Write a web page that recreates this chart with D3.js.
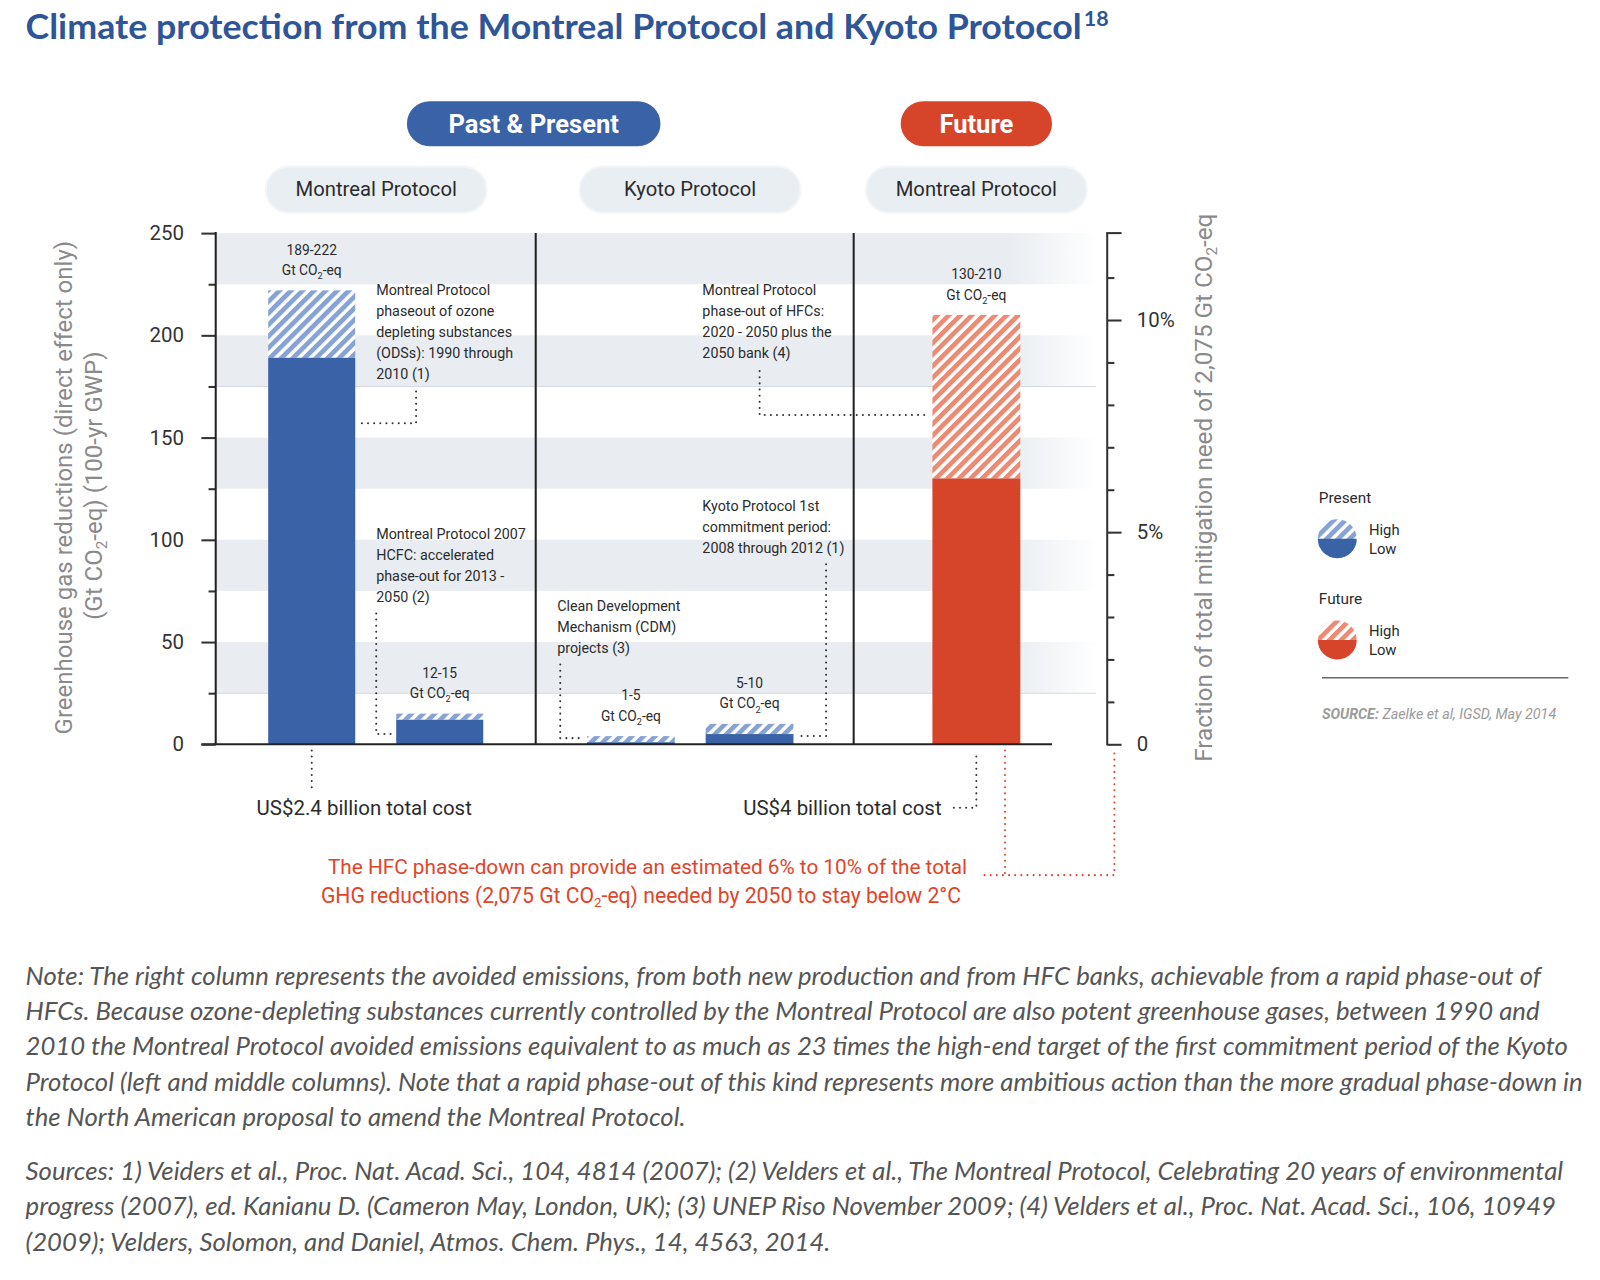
<!DOCTYPE html>
<html>
<head>
<meta charset="utf-8">
<script src="https://cdn.jsdelivr.net/npm/d3@7"></script>
<style>
  body { margin: 0; background: #fff; }
</style>
</head>
<body>
<div id="chart"></div>
<script>
// ---- data ----
const categories = ["ODS phase-out 1990-2010", "HCFC accelerated phase-out", "CDM projects", "Kyoto 1st commitment", "HFC phase-out 2020-2050"];
const barPanel = ["pastMontreal", "pastMontreal", "kyoto", "kyoto", "futureMontreal"];
const lowValues = [189, 12, 1, 5, 130];
const highValues = [222, 15, 4, 10, 210];
const rangeLabels = ["189-222", "12-15", "1-5", "5-10", "130-210"];
const panels = ["pastMontreal", "kyoto", "futureMontreal"];
const panelLabels = ["Montreal Protocol", "Kyoto Protocol", "Montreal Protocol"];
const periods = ["Past & Present", "Future"];
const yTicks = [0, 50, 100, 150, 200, 250];
const yMinorTicks = [25, 75, 125, 175, 225];
const pctTicks = [0, 0.05, 0.10];
const pctMinorTicks = [0.01, 0.02, 0.03, 0.04, 0.06, 0.07, 0.08, 0.09, 0.11];
const totalNeed = 2075;
const costLabels = ["US$2.4 billion total cost", "US$4 billion total cost"];
const annotations = [
  ["Montreal Protocol", "phaseout of ozone", "depleting substances", "(ODSs): 1990 through", "2010 (1)"],
  ["Montreal Protocol 2007", "HCFC: accelerated", "phase-out for 2013 -", "2050 (2)"],
  ["Clean Development", "Mechanism (CDM)", "projects (3)"],
  ["Montreal Protocol", "phase-out of HFCs:", "2020 - 2050 plus the", "2050 bank (4)"],
  ["Kyoto Protocol 1st", "commitment period:", "2008 through 2012 (1)"]
];
const noteLines = [
  "Note: The right column represents the avoided emissions, from both new production and from HFC banks, achievable from a rapid phase-out of",
  "HFCs. Because ozone-depleting substances currently controlled by the Montreal Protocol are also potent greenhouse gases, between 1990 and",
  "2010 the Montreal Protocol avoided emissions equivalent to as much as 23 times the high-end target of the first commitment period of the Kyoto",
  "Protocol (left and middle columns). Note that a rapid phase-out of this kind represents more ambitious action than the more gradual phase-down in",
  "the North American proposal to amend the Montreal Protocol."
];
const sourceLines = [
  "Sources: 1) Veiders et al., Proc. Nat. Acad. Sci., 104, 4814 (2007); (2) Velders et al., The Montreal Protocol, Celebrating 20 years of environmental",
  "progress (2007), ed. Kanianu D. (Cameron May, London, UK); (3) UNEP Riso November 2009; (4) Velders et al., Proc. Nat. Acad. Sci., 106, 10949",
  "(2009); Velders, Solomon, and Daniel, Atmos. Chem. Phys., 14, 4563, 2014."
];

// ---- layout ----
const W = 1600, H = 1280;
const VW = 1565, VH = 1252; // drawing units, scaled up to the page
const blue = "#3a62a6", blueHatch = "#86a3d4", red = "#d6452a", redHatch = "#ec8b74";
const band = "#e9edf1", ink = "#2b2b2b";
const chartFont = "Roboto, 'Open Sans', sans-serif";
const plotLeft = 211, axisRightX = 1083, plotTop = 228, plotBottom = 728;

const svg = d3.select("#chart").append("svg").attr("width", W).attr("height", H)
  .attr("viewBox", `0 0 ${VW} ${VH}`).attr("preserveAspectRatio", "none")
  .style("background", "#fff");
const defs = svg.append("defs");

function hatch(id, color) {
  const p = defs.append("pattern").attr("id", id).attr("patternUnits", "userSpaceOnUse")
    .attr("width", 8).attr("height", 8).attr("patternTransform", "rotate(45)");
  p.append("rect").attr("width", 8).attr("height", 8).attr("fill", "#fff");
  p.append("rect").attr("width", 4.6).attr("height", 8).attr("fill", color);
}
hatch("hatchBlue", blueHatch);
hatch("hatchRed", redHatch);

const fade = defs.append("linearGradient").attr("id", "bandFade")
  .attr("gradientUnits", "userSpaceOnUse").attr("x1", plotLeft).attr("x2", 1074).attr("y1", 0).attr("y2", 0);
fade.append("stop").attr("offset", 0.9).attr("stop-color", band);
fade.append("stop").attr("offset", 1).attr("stop-color", "#fff");

// subscript helper: "_2" -> subscript 2
function rich(sel, s, subSize, subDy) {
  s.split("_2").forEach((part, i) => {
    if (i > 0) {
      sel.append("tspan").attr("font-size", subSize).attr("dy", subDy).text("2");
      sel.append("tspan").attr("dy", -subDy).text(part);
    } else {
      sel.append("tspan").text(part);
    }
  });
}

// ---- scales ----
const y = d3.scaleLinear().domain([0, 250]).range([plotBottom, plotTop]);
const yPct = d3.scaleLinear().domain([0, 250 / totalNeed]).range([plotBottom, plotTop]);

const panelLayout = {
  pastMontreal: { range: [211, 524], inner: 0.32, outer: 0.41, align: 0.5 },
  kyoto: { range: [524, 835], inner: 0.26, outer: 0.47, align: 0.46 },
  futureMontreal: { range: [835, 1075], inner: 0.3, outer: 0.627, align: 0.5 }
};
const panelScales = {};
panels.forEach(p => {
  const L = panelLayout[p];
  panelScales[p] = d3.scaleBand()
    .domain(categories.filter((c, i) => barPanel[i] === p))
    .range(L.range).paddingInner(L.inner).paddingOuter(L.outer).align(L.align);
});
const bars = categories.map((c, i) => {
  const sc = panelScales[barPanel[i]];
  return { cat: c, low: lowValues[i], high: highValues[i], label: rangeLabels[i],
    x: sc(c), w: sc.bandwidth(), cx: sc(c) + sc.bandwidth() / 2, future: barPanel[i] === "futureMontreal" };
});

// ---- title ----
const title = svg.append("text").attr("x", 25).attr("y", 38)
  .attr("font-family", "Lato, sans-serif").attr("font-weight", 700).attr("font-size", 34)
  .attr("fill", "#2e5597");
const titleMain = title.append("tspan").text("Climate protection from the Montreal Protocol and Kyoto Protocol");
title.append("tspan").attr("font-size", 21).attr("dy", -13).attr("dx", 2).text("18");
titleMain.attr("textLength", 1033).attr("lengthAdjust", "spacingAndGlyphs");

// ---- background bands ----
const g = svg.append("g");
g.selectAll("rect.band").data([225, 175, 125, 75, 25]).enter().append("rect")
  .attr("class", "band").attr("x", plotLeft).attr("width", 1074 - plotLeft)
  .attr("y", d => y(d + 25)).attr("height", d => y(d) - y(d + 25)).attr("fill", "url(#bandFade)");
g.selectAll("line.bline").data([25, 175]).enter().append("line")
  .attr("x1", plotLeft).attr("x2", 1072).attr("y1", d => y(d)).attr("y2", d => y(d))
  .attr("stroke", "#d6dadf").attr("stroke-width", 1);

// ---- header pills ----
const pillData = [
  { text: periods[0], cx: 522, w: 248, fill: blue },
  { text: periods[1], cx: bars[4].cx, w: 148, fill: red }
];
pillData.forEach(p => {
  svg.append("rect").attr("x", p.cx - p.w / 2).attr("y", 99).attr("width", p.w).attr("height", 44)
    .attr("rx", 22).attr("fill", p.fill);
  svg.append("text").attr("x", p.cx).attr("y", 130).attr("text-anchor", "middle")
    .attr("font-family", chartFont).attr("font-weight", 700).attr("font-size", 25)
    .attr("fill", "#fff").text(p.text);
});
const subPillCx = [368, 675, 955];
panelLabels.forEach((t, i) => {
  svg.append("rect").attr("x", subPillCx[i] - 108).attr("y", 163).attr("width", 216).attr("height", 45)
    .attr("rx", 22.5).attr("fill", "#e9eef2").attr("stroke", "#f3f5f7").attr("stroke-width", 2);
  svg.append("text").attr("x", subPillCx[i]).attr("y", 192).attr("text-anchor", "middle")
    .attr("font-family", chartFont).attr("font-size", 19.8).attr("fill", ink).text(t);
});

// ---- bars ----
const barG = svg.append("g");
barG.selectAll("rect.high").data(bars).enter().append("rect").attr("class", "high")
  .attr("x", d => d.x).attr("width", d => d.w)
  .attr("y", d => y(d.high)).attr("height", d => y(d.low) - y(d.high))
  .attr("fill", d => d.future ? "url(#hatchRed)" : "url(#hatchBlue)");
barG.selectAll("rect.low").data(bars).enter().append("rect").attr("class", "low")
  .attr("x", d => d.x).attr("width", d => d.w)
  .attr("y", d => y(d.low)).attr("height", d => y(0) - y(d.low))
  .attr("fill", d => d.future ? red : blue);

// value labels
bars.forEach(d => {
  svg.append("text").attr("x", d.cx).attr("y", y(d.high) - 35).attr("text-anchor", "middle")
    .attr("font-family", chartFont).attr("font-size", 13.5).attr("fill", ink).text(d.label);
  const t2 = svg.append("text").attr("x", d.cx).attr("y", y(d.high) - 15).attr("text-anchor", "middle")
    .attr("font-family", chartFont).attr("font-size", 13.5).attr("fill", ink);
  rich(t2, "Gt CO_2-eq", 9, 4);
});

// ---- separators and axes ----
[524, 835].forEach(x => svg.append("line").attr("x1", x).attr("x2", x).attr("y1", plotTop).attr("y2", plotBottom)
  .attr("stroke", "#222").attr("stroke-width", 2));
svg.append("line").attr("x1", 197).attr("x2", 1029).attr("y1", plotBottom).attr("y2", plotBottom)
  .attr("stroke", "#222").attr("stroke-width", 2);

function styleAxis(sel) {
  sel.select(".domain").remove();
  sel.selectAll(".tick line").attr("stroke", "#333").attr("stroke-width", 2);
  sel.selectAll(".tick text").attr("font-family", chartFont).attr("font-size", 20).attr("fill", "#333");
}
svg.append("g").attr("transform", `translate(${plotLeft},0)`)
  .call(d3.axisLeft(y).tickValues(yTicks).tickSize(14).tickPadding(17)).call(styleAxis);
svg.append("g").attr("transform", `translate(${plotLeft},0)`)
  .call(d3.axisLeft(y).tickValues(yMinorTicks).tickSize(7).tickFormat("")).call(styleAxis);
svg.append("line").attr("x1", plotLeft).attr("x2", plotLeft).attr("y1", plotTop - 1).attr("y2", plotBottom)
  .attr("stroke", "#222").attr("stroke-width", 2);

svg.append("g").attr("transform", `translate(${axisRightX},0)`)
  .call(d3.axisRight(yPct).tickValues(pctTicks).tickSize(14).tickPadding(15)
    .tickFormat(d => d === 0 ? "0" : d3.format(".0%")(d))).call(styleAxis);
svg.append("g").attr("transform", `translate(${axisRightX},0)`)
  .call(d3.axisRight(yPct).tickValues(pctMinorTicks).tickSize(7).tickFormat("")).call(styleAxis);
svg.append("line").attr("x1", axisRightX).attr("x2", axisRightX).attr("y1", plotTop).attr("y2", plotBottom + 1)
  .attr("stroke", "#333").attr("stroke-width", 2);
svg.append("line").attr("x1", axisRightX - 1).attr("x2", axisRightX + 14).attr("y1", plotTop).attr("y2", plotTop)
  .attr("stroke", "#333").attr("stroke-width", 2);

// axis titles
const midY = (plotTop + plotBottom) / 2;
svg.append("text").attr("transform", `translate(70,${midY - 1}) rotate(-90)`)
  .attr("text-anchor", "middle").attr("font-family", chartFont).attr("font-size", 23.5).attr("fill", "#8a8a8a")
  .text("Greenhouse gas reductions (direct effect only)");
const yl2 = svg.append("text").attr("transform", `translate(100,${midY - 3}) rotate(-90)`)
  .attr("text-anchor", "middle").attr("font-family", chartFont).attr("font-size", 23.5).attr("fill", "#8a8a8a");
rich(yl2, "(Gt CO_2-eq) (100-yr GWP)", 15, 5);
const yr = svg.append("text").attr("transform", `translate(1185,${midY - 1}) rotate(-90)`)
  .attr("text-anchor", "middle").attr("font-family", chartFont).attr("font-size", 23.7).attr("fill", "#8a8a8a");
rich(yr, "Fraction of total mitigation need of 2,075 Gt CO_2-eq", 15, 5);

// ---- annotations ----
const annoPos = [
  { x: 368, v: 219.5 }, { x: 368, v: 100.5 }, { x: 545, v: 65 }, { x: 687, v: 219.5 }, { x: 687, v: 114 }
];
annotations.forEach((lines, i) => {
  const t = svg.append("text").attr("font-family", chartFont).attr("font-size", 14).attr("fill", ink);
  lines.forEach((l, j) => t.append("tspan").attr("x", annoPos[i].x).attr("y", y(annoPos[i].v) + j * 20.5).text(l));
});

function dotted(points, color) {
  svg.append("path").attr("d", d3.line()(points)).attr("fill", "none")
    .attr("stroke", color || "#333").attr("stroke-width", 2)
    .attr("stroke-linecap", "round").attr("stroke-dasharray", "0,6");
}
dotted([[407, y(172.5)], [407, y(157)], [bars[0].x + bars[0].w + 3, y(157)]]);
dotted([[368, y(64)], [368, y(5)], [bars[1].x - 3, y(5)]]);
dotted([[548, y(39)], [548, y(3)], [bars[2].x - 3, y(3)]]);
dotted([[743, y(182.5)], [743, y(161)], [bars[4].x - 3, y(161)]]);
dotted([[808, y(88)], [808, y(4)], [bars[3].x + bars[3].w + 3, y(4)]]);

// costs
dotted([[bars[0].cx, plotBottom + 6], [bars[0].cx, 772]]);
svg.append("text").attr("x", 251).attr("y", 797).attr("font-family", chartFont).attr("font-size", 20)
  .attr("fill", ink).text(costLabels[0]);
svg.append("text").attr("x", 921).attr("y", 797).attr("text-anchor", "end").attr("font-family", chartFont)
  .attr("font-size", 20).attr("fill", ink).text(costLabels[1]);
dotted([[933, 790], [bars[4].cx, 790], [bars[4].cx, plotBottom + 6]]);

// red note
dotted([[983, plotBottom + 6], [983, 856]], "#e0452a");
dotted([[963, 856], [1090, 856], [1090, plotBottom + 6]], "#e0452a");
svg.append("text").attr("x", 946).attr("y", 855).attr("text-anchor", "end")
  .attr("font-family", chartFont).attr("font-size", 20.3).attr("fill", "#e0452a")
  .text("The HFC phase-down can provide an estimated 6% to 10% of the total");
const rn2 = svg.append("text").attr("x", 940).attr("y", 883).attr("text-anchor", "end")
  .attr("font-family", chartFont).attr("font-size", 20.7).attr("fill", "#e0452a");
rich(rn2, "GHG reductions (2,075 Gt CO_2-eq) needed by 2050 to stay below 2°C", 13, 4);

// ---- legend ----
const legendItems = [
  { name: "Present", solid: blue, pat: "url(#hatchBlue)", y: 492 },
  { name: "Future", solid: red, pat: "url(#hatchRed)", y: 591 }
];
legendItems.forEach(it => {
  svg.append("text").attr("x", 1290).attr("y", it.y).attr("font-family", chartFont)
    .attr("font-size", 15).attr("fill", ink).text(it.name);
  const cx = 1308, cy = it.y + 35, r = 19;
  svg.append("circle").attr("cx", cx).attr("cy", cy).attr("r", r).attr("fill", it.pat);
  svg.append("path").attr("d", `M${cx - r},${cy} A${r},${r} 0 0 0 ${cx + r},${cy} Z`).attr("fill", it.solid);
  svg.append("text").attr("x", 1339).attr("y", it.y + 31).attr("font-family", chartFont)
    .attr("font-size", 14.5).attr("fill", ink).text("High");
  svg.append("text").attr("x", 1339).attr("y", it.y + 50).attr("font-family", chartFont)
    .attr("font-size", 14.5).attr("fill", ink).text("Low");
});
svg.append("line").attr("x1", 1293).attr("x2", 1534).attr("y1", 663).attr("y2", 663)
  .attr("stroke", "#666").attr("stroke-width", 1.5);
const src = svg.append("text").attr("x", 1293).attr("y", 703).attr("font-family", chartFont)
  .attr("font-size", 14).attr("font-style", "italic").attr("fill", "#9a9a9a");
src.append("tspan").attr("font-weight", 700).text("SOURCE:");
src.append("tspan").text(" Zaelke et al, IGSD, May 2014");

// ---- notes ----
function paragraph(lines, y0, lh) {
  return lines.map((l, i) => svg.append("text").attr("x", 25).attr("y", y0 + i * lh)
    .attr("font-family", "Lato, sans-serif").attr("font-style", "italic").attr("font-size", 24)
    .attr("fill", "#555").text(l));
}
const noteNodes = paragraph(noteLines, 963, 34.7);
const srcNodes = paragraph(sourceLines, 1154, 34.7);
const k = 1523 / noteNodes[3].node().getComputedTextLength();
noteNodes.concat(srcNodes).forEach(n => {
  n.attr("textLength", n.node().getComputedTextLength() * k).attr("lengthAdjust", "spacingAndGlyphs");
});
</script>
</body>
</html>
